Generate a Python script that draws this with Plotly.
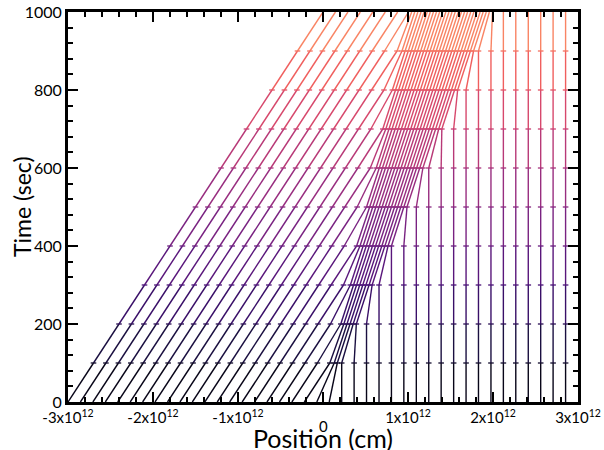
import plotly.graph_objects as go
from plotly.colors import sample_colorscale

# Output times (sec)
times = [0, 100, 200, 300, 400, 500, 600, 700, 800, 900, 1000]

# Particle positions (units of 1e12 cm) at each output time, 41 particles
x_t0000 = [-3.000, -2.854, -2.707, -2.561, -2.415, -2.268, -2.122, -1.976, -1.829, -1.683,
           -1.537, -1.390, -1.244, -1.098, -0.951, -0.805, -0.659, -0.512, -0.366, -0.220,
           -0.073, 0.073, 0.220, 0.366, 0.512, 0.659, 0.805, 0.951, 1.098, 1.244,
           1.390, 1.537, 1.683, 1.829, 1.976, 2.122, 2.268, 2.415, 2.561, 2.707, 2.854]
x_t0100 = [-2.700, -2.554, -2.407, -2.261, -2.115, -1.968, -1.822, -1.676, -1.529, -1.383,
           -1.237, -1.090, -0.944, -0.798, -0.651, -0.505, -0.359, -0.212, -0.066, 0.080,
           0.132, 0.168, 0.220, 0.366, 0.512, 0.659, 0.805, 0.951, 1.098, 1.244,
           1.390, 1.537, 1.683, 1.829, 1.976, 2.122, 2.268, 2.415, 2.561, 2.707, 2.854]
x_t0200 = [-2.400, -2.254, -2.107, -1.961, -1.815, -1.668, -1.522, -1.376, -1.229, -1.083,
           -0.937, -0.790, -0.644, -0.498, -0.351, -0.205, -0.059, 0.088, 0.209, 0.245,
           0.282, 0.318, 0.355, 0.392, 0.512, 0.659, 0.805, 0.951, 1.098, 1.244,
           1.390, 1.537, 1.683, 1.829, 1.976, 2.122, 2.268, 2.415, 2.561, 2.707, 2.854]
x_t0300 = [-2.100, -1.954, -1.807, -1.661, -1.515, -1.368, -1.222, -1.076, -0.929, -0.783,
           -0.637, -0.490, -0.344, -0.198, -0.051, 0.095, 0.241, 0.322, 0.359, 0.395,
           0.432, 0.468, 0.505, 0.542, 0.578, 0.659, 0.805, 0.951, 1.098, 1.244,
           1.390, 1.537, 1.683, 1.829, 1.976, 2.122, 2.268, 2.415, 2.561, 2.707, 2.854]
x_t0400 = [-1.800, -1.654, -1.507, -1.361, -1.215, -1.068, -0.922, -0.776, -0.629, -0.483,
           -0.337, -0.190, -0.044, 0.102, 0.249, 0.395, 0.435, 0.472, 0.509, 0.545,
           0.582, 0.618, 0.655, 0.692, 0.728, 0.765, 0.805, 0.951, 1.098, 1.244,
           1.390, 1.537, 1.683, 1.829, 1.976, 2.122, 2.268, 2.415, 2.561, 2.707, 2.854]
x_t0500 = [-1.500, -1.354, -1.207, -1.061, -0.915, -0.768, -0.622, -0.476, -0.329, -0.183,
           -0.037, 0.110, 0.256, 0.402, 0.512, 0.549, 0.585, 0.622, 0.659, 0.695,
           0.732, 0.768, 0.805, 0.842, 0.878, 0.915, 0.951, 0.988, 1.098, 1.244,
           1.390, 1.537, 1.683, 1.829, 1.976, 2.122, 2.268, 2.415, 2.561, 2.707, 2.854]
x_t0600 = [-1.200, -1.054, -0.907, -0.761, -0.615, -0.468, -0.322, -0.176, -0.029, 0.117,
           0.263, 0.410, 0.556, 0.626, 0.662, 0.699, 0.735, 0.772, 0.809, 0.845,
           0.882, 0.918, 0.955, 0.992, 1.028, 1.065, 1.101, 1.138, 1.175, 1.244,
           1.390, 1.537, 1.683, 1.829, 1.976, 2.122, 2.268, 2.415, 2.561, 2.707, 2.854]
x_t0700 = [-0.900, -0.754, -0.607, -0.461, -0.315, -0.168, -0.022, 0.124, 0.271, 0.417,
           0.563, 0.703, 0.739, 0.776, 0.812, 0.849, 0.885, 0.922, 0.959, 0.995,
           1.032, 1.068, 1.105, 1.142, 1.178, 1.215, 1.251, 1.288, 1.325, 1.361,
           1.398, 1.537, 1.683, 1.829, 1.976, 2.122, 2.268, 2.415, 2.561, 2.707, 2.854]
x_t0800 = [-0.600, -0.454, -0.307, -0.161, -0.015, 0.132, 0.278, 0.424, 0.571, 0.717,
           0.816, 0.853, 0.889, 0.926, 0.962, 0.999, 1.035, 1.072, 1.109, 1.145,
           1.182, 1.218, 1.255, 1.292, 1.328, 1.365, 1.401, 1.438, 1.475, 1.511,
           1.548, 1.584, 1.683, 1.829, 1.976, 2.122, 2.268, 2.415, 2.561, 2.707, 2.854]
x_t0900 = [-0.300, -0.154, -0.007, 0.139, 0.285, 0.432, 0.578, 0.724, 0.871, 0.929,
           0.966, 1.003, 1.039, 1.076, 1.112, 1.149, 1.185, 1.222, 1.259, 1.295,
           1.332, 1.368, 1.405, 1.442, 1.478, 1.515, 1.551, 1.588, 1.625, 1.661,
           1.698, 1.734, 1.771, 1.829, 1.976, 2.122, 2.268, 2.415, 2.561, 2.707, 2.854]
x_t1000 = [0.000, 0.146, 0.293, 0.439, 0.585, 0.732, 0.878, 1.006, 1.043, 1.079,
           1.116, 1.153, 1.189, 1.226, 1.262, 1.299, 1.335, 1.372, 1.409, 1.445,
           1.482, 1.518, 1.555, 1.592, 1.628, 1.665, 1.701, 1.738, 1.775, 1.811,
           1.848, 1.884, 1.921, 1.957, 1.994, 2.122, 2.268, 2.415, 2.561, 2.707, 2.854]

positions = [x_t0000, x_t0100, x_t0200, x_t0300, x_t0400, x_t0500,
             x_t0600, x_t0700, x_t0800, x_t0900, x_t1000]

x_tickvals = [-3e12, -2e12, -1e12, 0, 1e12, 2e12, 3e12]
x_ticktext = ["-3x10<sup>12</sup>", "-2x10<sup>12</sup>", "-1x10<sup>12</sup>", " ",
              "1x10<sup>12</sup>", "2x10<sup>12</sup>", "3x10<sup>12</sup>"]
x_title = "Position (cm)"
y_title = "Time (sec)"

UNIT = 1e12
CMAX = 0.78
magma = "Magma"

fig = go.Figure()
nseg = len(times) - 1
for k in range(nseg):
    xs, ys = [], []
    for a, b in zip(positions[k], positions[k + 1]):
        xs += [a * UNIT, b * UNIT, None]
        ys += [times[k], times[k + 1], None]
    col = sample_colorscale(magma, [CMAX * (k + 0.5) / nseg])[0]
    fig.add_trace(go.Scatter(x=xs, y=ys, mode="lines",
                             line=dict(color=col, width=1.4),
                             hoverinfo="skip", showlegend=False))

for k in range(1, len(times) - 1):
    col = sample_colorscale(magma, [CMAX * times[k] / times[-1]])[0]
    fig.add_trace(go.Scatter(x=[p * UNIT for p in positions[k]], y=[times[k]] * len(positions[k]),
                             mode="markers",
                             marker=dict(symbol="line-ew", size=4, line=dict(color=col, width=1.3)),
                             hoverinfo="skip", showlegend=False))

font = "Lato, 'Open Sans', Arial, sans-serif"
minor_x = [v * 0.2e12 for v in range(-15, 16)]
fig.update_layout(
    width=604, height=450,
    margin=dict(l=68, r=26, t=12, b=48),
    paper_bgcolor="white", plot_bgcolor="white",
    font=dict(family=font, color="black", size=16),
    xaxis=dict(range=[-3e12, 3e12], tickmode="array", tickvals=x_tickvals, ticktext=x_ticktext,
               ticks="inside", ticklen=10, tickwidth=2, tickcolor="black",
               showline=True, linewidth=3, linecolor="black", mirror="allticks",
               showgrid=False, zeroline=False, automargin=False,
               minor=dict(ticks="inside", ticklen=5, tickwidth=2, tickcolor="black",
                          tickmode="array", tickvals=minor_x, showgrid=False),
               tickfont=dict(size=15)),
    yaxis=dict(range=[0, 1000], tickmode="linear", tick0=0, dtick=200,
               ticks="inside", ticklen=10, tickwidth=2, tickcolor="black",
               showline=True, linewidth=3, linecolor="black", mirror="allticks",
               showgrid=False, zeroline=False, automargin=False,
               minor=dict(ticks="inside", ticklen=5, tickwidth=2, tickcolor="black",
                          dtick=40, showgrid=False),
               tickfont=dict(size=16)),
    annotations=[
        dict(text="0", x=0, xref="x", y=0, yref="paper", yanchor="top", xanchor="center",
             yshift=-13, showarrow=False, font=dict(size=15)),
        dict(text=x_title, x=0.5, xref="paper", y=0, yref="paper", yanchor="middle",
             xanchor="center", yshift=-36, showarrow=False, font=dict(size=25)),
        dict(text=y_title, x=0, xref="paper", y=0.5, yref="paper", xanchor="center",
             yanchor="middle", xshift=-46, textangle=-90, showarrow=False, font=dict(size=23)),
    ],
)

fig.write_html("out.html", config={"displayModeBar": False},
               post_script="document.body.style.margin='0px';document.body.style.overflow='hidden';")
